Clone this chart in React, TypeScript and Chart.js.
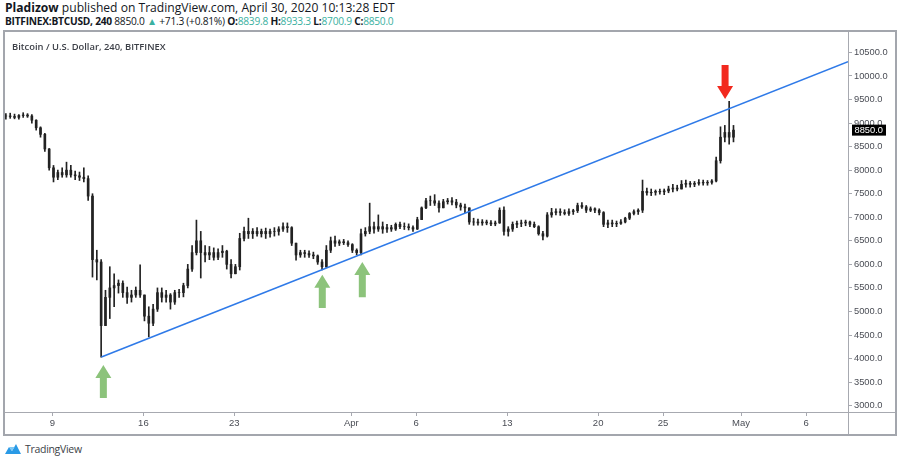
import React, { useEffect, useRef } from "react";
import { Chart, registerables } from "chart.js";
Chart.register(...registerables);

// ---- time axis (day numbers: Mar 1 = 1, Apr 1 = 32, May 1 = 62) ----
const X_MIN = 5.35;
const X_MAX = 70.23;
const X_TICK_DAYS = [9, 16, 23, 32, 37, 44, 51, 56, 62, 67];
const X_TICK_LABELS = ["9", "16", "23", "Apr", "6", "13", "20", "25", "May", "6"];

// ---- price axis ----
const Y_MIN = 2866;
const Y_MAX = 10933;
const Y_TICKS = [3000, 3500, 4000, 4500, 5000, 5500, 6000, 6500, 7000, 7500, 8000, 8500, 9000, 9500, 10000, 10500];
const LAST_PRICE = 8850.0;

// ---- BTCUSD bars (8h each), starting Mar 5 08:00 ----
const FIRST_BAR_DAY = 5 + 1 / 3;
const BAR_SPAN = 1 / 3;
const FIRST_OPEN = 9150;
const HIGHS = [
  9200, 9210,
  9190, 9180, 9220,
  9200, 9180, 9070,
  8920, 8780, 8460,
  8100, 8000, 8050,
  8170, 8100, 7980,
  7960, 8050, 7880,
  7500, 6300, 6100,
  5450, 5950, 5800,
  5670, 5650, 5520,
  5450, 5520, 5990,
  5350, 5100, 5150,
  5500, 5500, 5450,
  5380, 5450, 5470,
  5600, 6000, 6400,
  6940, 6700, 6400,
  6380, 6350, 6330,
  6400, 6300, 6100,
  6000, 6660, 6790,
  6980, 6760, 6780,
  6750, 6770, 6750,
  6780, 6800, 6880,
  6880, 6800, 6450,
  6300, 6300, 6290,
  6260, 6200, 6100,
  6400, 6580, 6600,
  6520, 6530, 6500,
  6440, 6330, 6750,
  6780, 7300, 6900,
  7050, 6900, 6850,
  6830, 6880, 6900,
  6880, 6860, 6820,
  7000, 7220, 7400,
  7450, 7480, 7350,
  7380, 7400, 7420,
  7380, 7300, 7280,
  7200, 6980, 6960,
  6950, 6940, 6930,
  6920, 7200, 7220,
  6800, 6900, 6920,
  6940, 6940, 6920,
  6900, 6820, 6700,
  7100, 7190, 7180,
  7180, 7160, 7180,
  7170, 7300, 7310,
  7250, 7220, 7200,
  7180, 7120, 6940,
  6940, 6920, 6950,
  7000, 7100, 7160,
  7180, 7790, 7620,
  7600, 7580, 7600,
  7600, 7660, 7700,
  7680, 7780, 7790,
  7760, 7760, 7800,
  7790, 7780, 7800,
  8280, 8920, 8950,
  9460, 8950,
];
const LOWS = [
  9080, 9100,
  9090, 9080, 9120,
  9120, 9000, 8850,
  8700, 8400, 8000,
  7750, 7800, 7850,
  7850, 7850, 7800,
  7780, 7750, 7360,
  5730, 5670, 4030,
  4700, 4850, 5100,
  5390, 5300, 5170,
  5200, 5300, 5300,
  4800, 4460, 4700,
  5000, 5200, 5200,
  5050, 5150, 5300,
  5310, 5500, 5850,
  6200, 5710, 6050,
  6100, 6090, 6100,
  6150, 5900, 5710,
  5800, 5880, 6500,
  6550, 6550, 6600,
  6580, 6550, 6580,
  6600, 6620, 6700,
  6680, 6400, 6090,
  6150, 6150, 6150,
  6120, 6000, 5880,
  5930, 6250, 6380,
  6400, 6420, 6380,
  6250, 6200, 6200,
  6600, 6650, 6660,
  6700, 6660, 6680,
  6700, 6720, 6760,
  6740, 6730, 6700,
  6740, 6950, 7180,
  7250, 7250, 7110,
  7200, 7280, 7260,
  7200, 7150, 7100,
  6850, 6830, 6830,
  6830, 6840, 6820,
  6820, 6870, 6620,
  6600, 6700, 6780,
  6800, 6820, 6800,
  6780, 6620, 6520,
  6580, 7000, 7050,
  7040, 7050, 7040,
  7060, 7100, 7190,
  7100, 7120, 7100,
  7050, 6800, 6780,
  6800, 6800, 6850,
  6880, 6950, 7050,
  7060, 7100, 7470,
  7460, 7470, 7490,
  7480, 7520, 7540,
  7560, 7600, 7640,
  7640, 7650, 7680,
  7680, 7680, 7700,
  7750, 8150, 8600,
  8550, 8600,
];
const CLOSES = [
  9150, 9140,
  9120, 9160, 9170,
  9150, 9060, 8900,
  8760, 8450, 8050,
  7850, 7950, 7900,
  8000, 7900, 7880,
  7850, 7820, 7450,
  6100, 6050, 4700,
  5300, 5500, 5550,
  5600, 5400, 5300,
  5350, 5450, 5350,
  4900, 4750, 5050,
  5400, 5300, 5350,
  5200, 5400, 5400,
  5550, 5900, 6250,
  6500, 6250, 6200,
  6250, 6150, 6250,
  6280, 6000, 5800,
  5950, 6550, 6700,
  6650, 6700, 6650,
  6700, 6650, 6700,
  6700, 6750, 6800,
  6780, 6450, 6200,
  6250, 6230, 6200,
  6180, 6050, 5950,
  6300, 6500, 6450,
  6480, 6460, 6420,
  6300, 6250, 6650,
  6700, 6800, 6750,
  6800, 6750, 6780,
  6750, 6850, 6800,
  6800, 6780, 6750,
  6950, 7200, 7350,
  7350, 7300, 7200,
  7330, 7350, 7320,
  7260, 7220, 7200,
  6900, 6900, 6880,
  6900, 6880, 6860,
  6880, 7150, 6700,
  6750, 6850, 6870,
  6880, 6900, 6850,
  6800, 6650, 6600,
  7050, 7100, 7120,
  7100, 7080, 7120,
  7140, 7250, 7220,
  7150, 7180, 7150,
  7100, 6850, 6880,
  6860, 6870, 6900,
  6980, 7080, 7120,
  7150, 7550, 7520,
  7530, 7550, 7540,
  7560, 7600, 7620,
  7600, 7700, 7720,
  7700, 7720, 7740,
  7730, 7740, 7770,
  8200, 8700, 8800,
  8700, 8850,
];

// ---- trend line (day, price) ----
const TREND_DAYS = [12.77, 70.23];
const TREND_PRICES = [4034, 10303];

// ---- arrows: day, tip price, tail price ----
const ARROW_DAYS = [12.92, 29.77, 32.85, 60.77];
const ARROW_TIPS = [3864, 5778, 6050, 9511];
const ARROW_TAILS = [3163, 5074, 5300, 10234];
const ARROW_COLORS = ["#8cc37b", "#8cc37b", "#8cc37b", "#f2291e"];

const FONT = '"Liberation Sans", Arial, sans-serif';
const UI_FONT = '"Open Sans", "Noto Sans", sans-serif';

function buildBars() {
  const wicks: { x: number; y: [number, number] }[] = [];
  const bodies: { x: number; y: [number, number] }[] = [];
  let prev = FIRST_OPEN;
  for (let i = 0; i < CLOSES.length; i++) {
    const x = FIRST_BAR_DAY + i * BAR_SPAN + BAR_SPAN / 4;
    wicks.push({ x, y: [LOWS[i], HIGHS[i]] });
    bodies.push({ x, y: [prev, CLOSES[i]] });
    prev = CLOSES[i];
  }
  return { wicks, bodies };
}

const overlayPlugin = {
  id: "overlay",
  afterDraw(chart: any) {
    const { ctx, chartArea, scales } = chart;
    const xs = scales.x;
    const ys = scales.y;
    ctx.save();
    // separators
    ctx.strokeStyle = "#a7a9b0";
    ctx.lineWidth = 1;
    ctx.beginPath();
    ctx.moveTo(Math.round(chartArea.right) + 0.5, 0);
    ctx.lineTo(Math.round(chartArea.right) + 0.5, chart.height);
    ctx.moveTo(0, Math.round(chartArea.bottom) + 0.5);
    ctx.lineTo(chart.width, Math.round(chartArea.bottom) + 0.5);
    ctx.stroke();

    // arrows
    for (let i = 0; i < ARROW_DAYS.length; i++) {
      const cx = xs.getPixelForValue(ARROW_DAYS[i]);
      const tip = ys.getPixelForValue(ARROW_TIPS[i]);
      const tail = ys.getPixelForValue(ARROW_TAILS[i]);
      const dir = tail > tip ? 1 : -1; // 1 => pointing up
      const headH = 13;
      const headW = 8;
      const shaftW = 3.5;
      const base = tip + dir * headH;
      ctx.fillStyle = ARROW_COLORS[i];
      ctx.beginPath();
      ctx.moveTo(cx, tip);
      ctx.lineTo(cx + headW, base);
      ctx.lineTo(cx + shaftW, base);
      ctx.lineTo(cx + shaftW, tail);
      ctx.lineTo(cx - shaftW, tail);
      ctx.lineTo(cx - shaftW, base);
      ctx.lineTo(cx - headW, base);
      ctx.closePath();
      ctx.fill();
    }

    // last price tag
    const py = ys.getPixelForValue(LAST_PRICE);
    ctx.fillStyle = "#000";
    ctx.fillRect(chartArea.right + 4, py - 5.5, 34, 11);
    ctx.fillStyle = "#fff";
    ctx.font = `9.3px ${FONT}`;
    ctx.textBaseline = "middle";
    ctx.textAlign = "left";
    ctx.fillText(LAST_PRICE.toFixed(1), chartArea.right + 6.5, py + 0.5);
    ctx.restore();
  },
};

function PriceChart() {
  const ref = useRef<HTMLCanvasElement | null>(null);
  useEffect(() => {
    if (!ref.current) return;
    const { wicks, bodies } = buildBars();
    const trend = TREND_DAYS.map((d, i) => ({ x: d, y: TREND_PRICES[i] }));
    const chart = new Chart(ref.current, {
      type: "bar",
      data: {
        datasets: [
          {
            type: "line",
            data: trend,
            borderColor: "#2f7ae8",
            borderWidth: 1.6,
            pointRadius: 0,
            order: 0,
          } as any,
          {
            type: "bar",
            data: wicks,
            backgroundColor: "#222222",
            barThickness: 1,
            grouped: false,
            order: 2,
          } as any,
          {
            type: "bar",
            data: bodies,
            backgroundColor: "#222222",
            barThickness: 2,
            grouped: false,
            order: 1,
          } as any,
        ],
      },
      options: {
        animation: false,
        responsive: false,
        maintainAspectRatio: false,
        layout: { padding: 0 },
        plugins: { legend: { display: false }, tooltip: { enabled: false }, title: { display: false } },
        scales: {
          x: {
            type: "linear",
            min: X_MIN,
            max: X_MAX,
            offset: false,
            afterBuildTicks: (s: any) => {
              s.ticks = X_TICK_DAYS.map((v) => ({ value: v }));
            },
            afterFit: (s: any) => {
              s.height = 22;
              s.paddingLeft = 0;
              s.paddingRight = 0;
            },
            ticks: {
              autoSkip: false,
              maxRotation: 0,
              padding: 2,
              color: "#4a4d55",
              font: { family: FONT, size: 9.5 },
              callback: (v: any) => {
                const i = X_TICK_DAYS.indexOf(Number(v));
                return i >= 0 ? X_TICK_LABELS[i] : "";
              },
            },
            grid: { display: true, drawOnChartArea: false, drawTicks: true, tickLength: 4, color: "#a7a9b0", offset: false },
            border: { display: false },
          },
          y: {
            type: "linear",
            position: "right",
            min: Y_MIN,
            max: Y_MAX,
            afterBuildTicks: (s: any) => {
              s.ticks = Y_TICKS.map((v) => ({ value: v }));
            },
            afterFit: (s: any) => {
              s.width = 47;
              s.paddingTop = 0;
              s.paddingBottom = 0;
            },
            ticks: {
              padding: 2,
              crossAlign: "near",
              color: "#4a4d55",
              font: { family: FONT, size: 9.3 },
              callback: (v: any) => Number(v).toFixed(1),
            },
            grid: { display: true, drawOnChartArea: false, drawTicks: true, tickLength: 4, color: "#a7a9b0" },
            border: { display: false },
          },
        },
      } as any,
      plugins: [overlayPlugin],
    });
    return () => chart.destroy();
  }, []);
  return <canvas ref={ref} width={890} height={402} style={{ position: "absolute", left: 0, top: 0, width: 890, height: 402 }} />;
}

function Logo() {
  return (
    <svg width="18" height="14" viewBox="0 0 18 14" style={{ position: "absolute", left: 4, top: 442 }}>
      <path d="M1 12 L5 5 L8 9 L12 2 L17 12 Z" fill="#2a9ae6" />
      <path d="M5 5 L8 9 L10.5 5 Z" fill="#7cc8f5" />
    </svg>
  );
}

export default function App() {
  useEffect(() => {
    document.body.style.margin = "0";
  }, []);
  const teal = "#3bb1a1";
  return (
    <div style={{ position: "relative", width: 900, height: 463, background: "#fff", overflow: "hidden", fontFamily: UI_FONT, color: "#131722" }}>
      <div style={{ position: "absolute", left: 5, top: 0, fontSize: 12.1, lineHeight: "15px", whiteSpace: "nowrap" }}>
        <b>Pladizow</b> published on TradingView.com, April 30, 2020 10:13:28 EDT
      </div>
      <div style={{ position: "absolute", left: 5, top: 14, fontSize: 10.2, lineHeight: "15px", whiteSpace: "nowrap", letterSpacing: -0.25 }}>
        <b>BITFINEX:BTCUSD, 240</b> 8850.0 <span style={{ color: teal }}>▲</span> +71.3 (+0.81%) <b>O:</b>
        <span style={{ color: teal }}>8839.8</span> <b>H:</b>
        <span style={{ color: teal }}>8933.3</span> <b>L:</b>
        <span style={{ color: teal }}>8700.9</span> <b>C:</b>
        <span style={{ color: teal }}>8850.0</span>
      </div>
      <div style={{ position: "absolute", left: 3, top: 30, width: 894, height: 406, boxSizing: "border-box", border: "2px solid #a3a6ad" }}>
        <div style={{ position: "relative", width: 890, height: 402 }}>
          <PriceChart />
          <div style={{ position: "absolute", left: 7, top: 8, fontSize: 9.4, fontWeight: 600, color: "#3c3f47", whiteSpace: "nowrap" }}>
            Bitcoin / U.S. Dollar, 240, BITFINEX
          </div>
        </div>
      </div>
      <Logo />
      <div style={{ position: "absolute", left: 25, top: 442, fontSize: 10.5, lineHeight: "14px", color: "#3c3f47", whiteSpace: "nowrap", letterSpacing: -0.3 }}>
        TradingView
      </div>
    </div>
  );
}
